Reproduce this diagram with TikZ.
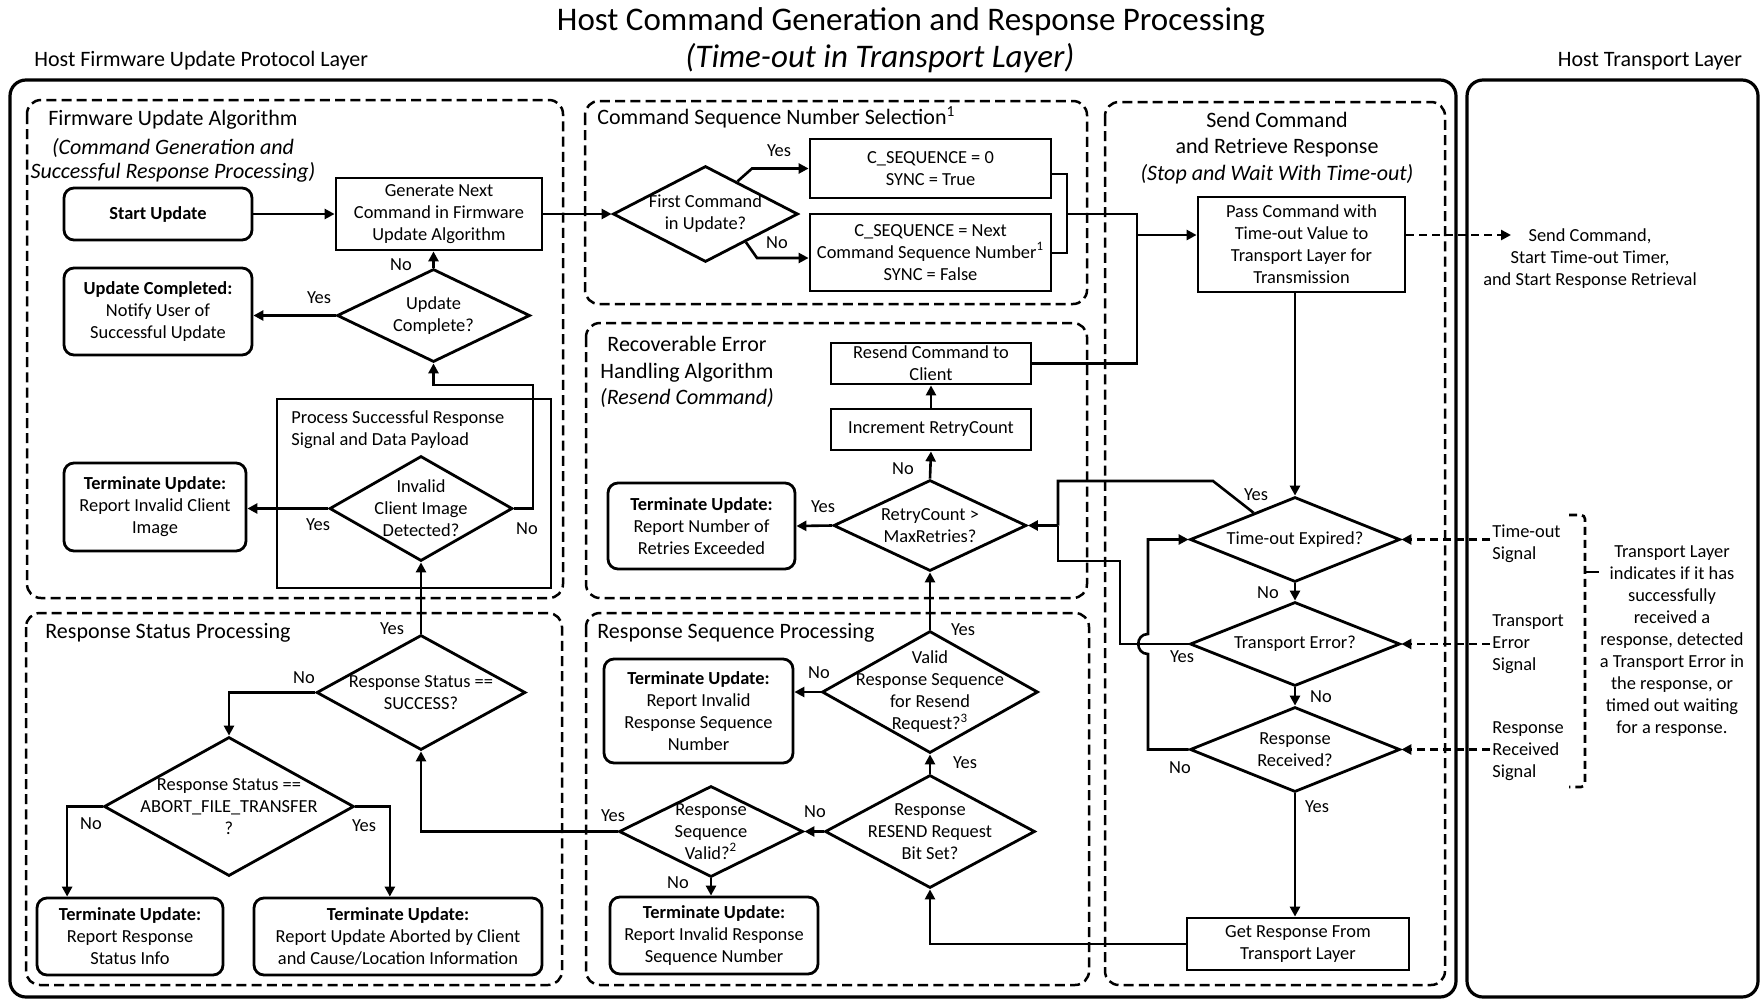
\documentclass[tikz,border=0pt]{standalone}
\usepackage{fontspec}
\setmainfont{Carlito}
\usetikzlibrary{shapes.geometric,arrows.meta,calc}
\begin{document}
\begin{tikzpicture}[x=0.5pt,y=-0.5pt,
  every node/.style={font=\fontsize{9.2}{11}\selectfont,align=center,inner sep=1pt},
  sz/.style 2 args={minimum width=#1,minimum height=#2},
  box/.style={draw,line width=1.4pt},
  term/.style={draw,line width=1.4pt,rounded corners=5pt},
  decision/.style={diamond,draw,line width=1.4pt,inner sep=0pt},
  section/.style={draw,line width=1.25pt,dash pattern=on 5pt off 2.6pt,rounded corners=7pt},
  layer/.style={draw,line width=1.6pt,rounded corners=8pt},
  stitle/.style={font=\fontsize{11}{13.2}\selectfont},
  sitalic/.style={font=\fontsize{11}{12}\selectfont\itshape},
  bigtitle/.style={font=\fontsize{16.5}{20}\selectfont},
  link/.style={line width=1.3pt},
  flow/.style={line width=1.3pt,-{Triangle[length=5pt,width=5pt]}},
  sig/.style={line width=1.3pt,dash pattern=on 4pt off 2.5pt,-{Triangle[length=5pt,width=5pt]}},
]
\useasboundingbox (0,0) rectangle (1762,1002);

% ---------- headings ----------
\node[bigtitle,anchor=base] (title) at (911,30) {Host Command Generation and Response Processing};
\node[bigtitle,anchor=base,font=\fontsize{16.5}{20}\selectfont\itshape] (subtitle) at (880,67) {(Time-out in Transport Layer)};
\node[stitle,anchor=west] (hostfw) at (32,61) {Host Firmware Update Protocol Layer};
\node[stitle] (hosttl) at (1650,61) {Host Transport Layer};

% ---------- layer frames and sections ----------
\draw[layer] (10,80) rectangle (1456,997);
\draw[layer] (1467,80) rectangle (1758,997);
\draw[section] (27,100) rectangle (563,598);
\draw[section] (585,101) rectangle (1087,304);
\draw[section] (586,323) rectangle (1087,598);
\draw[section] (1105,102) rectangle (1445,985);
\draw[section] (26,613) rectangle (562,985);
\draw[section] (586,613) rectangle (1089,985);

\node[stitle,anchor=west] (t1) at (46,120) {Firmware Update Algorithm};
\node[sitalic] (t1b) at (173,160) {(Command Generation and\\Successful Response Processing)};
\node[stitle,anchor=west] (t2) at (595,117) {Command Sequence Number Selection\textsuperscript{1}};
\node[stitle] (t3) at (687,372) {Recoverable Error\\Handling Algorithm\\\textit{(Resend Command)}};
\node[stitle] (t4) at (1277,148) {Send Command\\and Retrieve Response\\\textit{(Stop and Wait With Time-out)}};
\node[stitle,anchor=west] (t5) at (43,633) {Response Status Processing};
\node[stitle,anchor=west] (t6) at (595,633) {Response Sequence Processing};

% ---------- firmware update algorithm ----------
\node[term,sz={94pt}{26pt}] (start) at (158,214) {\textbf{Start Update}};
\node[box,sz={103pt}{36pt}] (gen) at (439,214) {Generate Next\\Command in Firmware\\Update Algorithm};
\node[decision,sz={96.5pt}{46.5pt}] (upd) at (433.5,315.5) {};
\node (updt) at (upd) {Update\\Complete?};
\node[term,sz={94pt}{43.5pt}] (done) at (158,311.5) {\textbf{Update Completed:}\\Notify User of\\Successful Update};
\node[box,sz={137pt}{94.5pt}] (proc) at (414,493.5) {};
\node[anchor=west,align=left] (proct) at (289,429.5) {Process Successful Response\\Signal and Data Payload};
\node[decision,sz={91.5pt}{52.5pt}] (inv) at (421,508.5) {};
\node (invt) at (inv) {Invalid\\Client Image\\Detected?};
\node[term,sz={91pt}{44pt}] (badimg) at (155,507) {\textbf{Terminate Update:}\\Report Invalid Client\\Image};

% ---------- response status processing ----------
\node[decision,sz={104.5pt}{57.5pt}] (succ) at (421,692.5) {};
\node (succt) at (succ) {Response Status ==\\SUCCESS?};
\node[decision,sz={125pt}{69.5pt}] (abort) at (229,806.5) {};
\node (abortt) at (abort) {Response Status ==\\ABORT\_FILE\_TRANSFER\\?};
\node[term,sz={93pt}{38.5pt}] (rinfo) at (130,936.5) {\textbf{Terminate Update:}\\Report Response\\Status Info};
\node[term,sz={144pt}{38.5pt}] (rabort) at (398,936.5) {\textbf{Terminate Update:}\\Report Update Aborted by Client\\and Cause/Location Information};

% ---------- command sequence number selection ----------
\node[decision,sz={92.5pt}{48pt}] (first) at (705.5,214) {};
\node (firstt) at (first) {First Command\\in Update?};
\node[box,sz={120.5pt}{29.5pt}] (cs0) at (930.5,168.5) {C\_SEQUENCE = 0\\SYNC = True};
\node[box,sz={120.5pt}{38.5pt}] (csn) at (930.5,252.5) {C\_SEQUENCE = Next\\Command Sequence Number\textsuperscript{1}\\SYNC = False};

% ---------- recoverable error handling ----------
\node[box,sz={100pt}{20.5pt},inner sep=0pt] (resend) at (931,363.5) {Resend Command to\\Client};
\node[box,sz={100pt}{20.5pt}] (inc) at (931,429.5) {Increment RetryCount};
\node[decision,sz={96.5pt}{45.5pt}] (retry) at (930,525.5) {};
\node (retryt) at (retry) {RetryCount >\\MaxRetries?};
\node[term,sz={93.5pt}{43pt}] (retries) at (701.5,526) {\textbf{Terminate Update:}\\Report Number of\\Retries Exceeded};

% ---------- response sequence processing ----------
\node[decision,sz={108pt}{61pt}] (valid) at (930,692) {};
\node (validt) at (valid) {Valid\\Response Sequence\\for Resend\\Request?\textsuperscript{3}};
\node[term,sz={94.5pt}{52pt}] (badseq) at (698.5,711) {\textbf{Terminate Update:}\\Report Invalid\\Response Sequence\\Number};
\node[decision,sz={105pt}{56.5pt}] (rsd) at (930,831.5) {};
\node (rsdt) at (rsd) {Response\\RESEND Request\\Bit Set?};
\node[decision,sz={92pt}{45.5pt}] (seqv) at (711,831.5) {};
\node (seqvt) at (seqv) {Response\\Sequence\\Valid?\textsuperscript{2}};
\node[term,sz={104pt}{38.5pt}] (badseq2) at (714,935.5) {\textbf{Terminate Update:}\\Report Invalid Response\\Sequence Number};

% ---------- send command and retrieve response ----------
\node[box,sz={103.5pt}{47.5pt}] (pass) at (1301.5,244.5) {Pass Command with\\Time-out Value to\\Transport Layer for\\Transmission};
\node[decision,sz={105pt}{42.5pt}] (tmo) at (1295,539.5) {};
\node (tmot) at (tmo) {Time-out Expired?};
\node[decision,sz={105pt}{42pt}] (tre) at (1295,644) {};
\node (tret) at (tre) {Transport Error?};
\node[decision,sz={105pt}{42.5pt}] (rcv) at (1295,749.5) {};
\node (rcvt) at (rcv) {Response\\Received?};
\node[box,sz={111pt}{26pt}] (get) at (1298,944) {Get Response From\\Transport Layer};

% ---------- host transport layer ----------
\node (sendt) at (1590,259) {Send Command,\\Start Time-out Timer,\\and Start Response Retrieval};
\node[anchor=west,align=left] (sto) at (1490,544) {Time-out\\Signal};
\node[anchor=west,align=left] (str) at (1490,644) {Transport\\Error\\Signal};
\node[anchor=west,align=left] (srr) at (1490,751) {Response\\Received\\Signal};
\node (note) at (1672,641) {Transport Layer\\indicates if it has\\successfully\\received a\\response, detected\\a Transport Error in\\the response, or\\timed out waiting\\for a response.};

% ---------- junction points ----------
\coordinate (mrg) at (1067,214);
\coordinate (jn) at (1137,235);
\coordinate (rj) at (1058,525.5);
\coordinate (sendtip) at (1511,235);

% ---------- connectors ----------
\draw[flow] (start) -- (gen);
\draw[flow] (gen) -- (first);
\draw[flow] ($(first.north)!0.34!(first.east)$) -- (752,168.5) -- (cs0.west);
\draw[flow] ($(first.south)!0.43!(first.east)$) -- (757,258) -- (csn.west |- 0,258);
\draw[link] (cs0.east |- 0,174) -- (1067,174) -- (1067,253) -- (csn.east |- 0,253);
\draw[link] (mrg) -- (1137,214) -- (jn);
\draw[link] (resend.east) -| (jn);
\draw[flow] (jn) -- (pass.west |- jn);
\draw[sig] (pass.east |- jn) -- (sendtip);

\draw[flow] (tmo.north |- pass.south) -- (tmo.north);
\draw[flow] (tmo.south) -- (tre.north);
\draw[flow] (tre.south) -- (rcv.north);
\draw[flow] (rcv.south) -- (rcv.south |- get.north);
\draw[flow] (rcv.west) -- (1148,749.5) -- (1148,654)
  .. controls (1135,654) and (1135,634) .. (1148,634) -- (1148,539.5) -- (tmo.west);
\draw[link] ($(tmo.west)!0.61!(tmo.north)$) -- (1213,481) -- (1058,481) -- (rj);
\draw[link] (tre.west) -- (1120,644) -- (1120,561) -- (1058,561) -- (rj);
\draw[flow] (rj) -- (retry.east);

\draw[sig] (sto.west |- tmo.east) -- (tmo.east);
\draw[sig] (str.west |- tre.east) -- (tre.east);
\draw[sig] (srr.west |- rcv.east) -- (rcv.east);
\draw[link,dash pattern=on 4pt off 2.5pt,rounded corners=2pt] (1569,515) -- (1585,515) -- (1585,787) -- (1569,787);
\draw[link] (1585,572) -- (1599,572);

\draw[flow] (get.west) -| (rsd.south);
\draw[flow] (rsd.north) -- (valid.south);
\draw[flow] (valid.north) -- (retry.south);
\draw[flow] (retry.north) -- (inc.south);
\draw[flow] (inc.north) -- (resend.south);
\draw[flow] (retry.west) -- (retries.east);
\draw[flow] (valid.west) -- (badseq.east |- valid.west);
\draw[flow] (rsd.west) -- (seqv.east);
\draw[flow] (seqv.south) -- (seqv.south |- badseq2.north);
\draw[flow] (seqv.west) -| (succ.south);

\draw[flow] (succ.north) -- (inv.south);
\draw[flow] (succ.west) -| (abort.north);
\draw[flow] (abort.west) -| ($(rinfo.north west)!0.167!(rinfo.north east)$);
\draw[flow] (abort.east) -| ($(rabort.north west)!0.472!(rabort.north east)$);

\draw[flow] (inv.west) -- (badimg.east |- inv.west);
\draw[flow] (inv.east) -- (533,508.5) -- (533,385) -- (433.5,385) -- (upd.south);
\draw[flow] (upd.north) -- (upd.north |- gen.south);
\draw[flow] (upd.west) -- (done.east |- upd.west);

% ---------- branch labels ----------
\node (l1) at (401,265) {No};
\node (l2) at (319,298) {Yes};
\node (l3) at (318,525) {Yes};
\node (l4) at (527,529) {No};
\node (l5) at (779,151) {Yes};
\node (l6) at (777,243) {No};
\node (l7) at (903,469) {No};
\node (l8) at (823,507) {Yes};
\node (l9) at (392,629) {Yes};
\node (l10) at (304,678) {No};
\node (l11) at (91,824) {No};
\node (l12) at (364,826) {Yes};
\node (l13) at (963,630) {Yes};
\node (l14) at (819,673) {No};
\node (l15) at (965,763) {Yes};
\node (l16) at (815,812) {No};
\node (l17) at (613,816) {Yes};
\node (l18) at (678,883) {No};
\node (l19) at (1256,495) {Yes};
\node (l20) at (1268,593) {No};
\node (l21) at (1182,657) {Yes};
\node (l22) at (1321,697) {No};
\node (l23) at (1180,768) {No};
\node (l24) at (1317,807) {Yes};
\end{tikzpicture}
\end{document}
